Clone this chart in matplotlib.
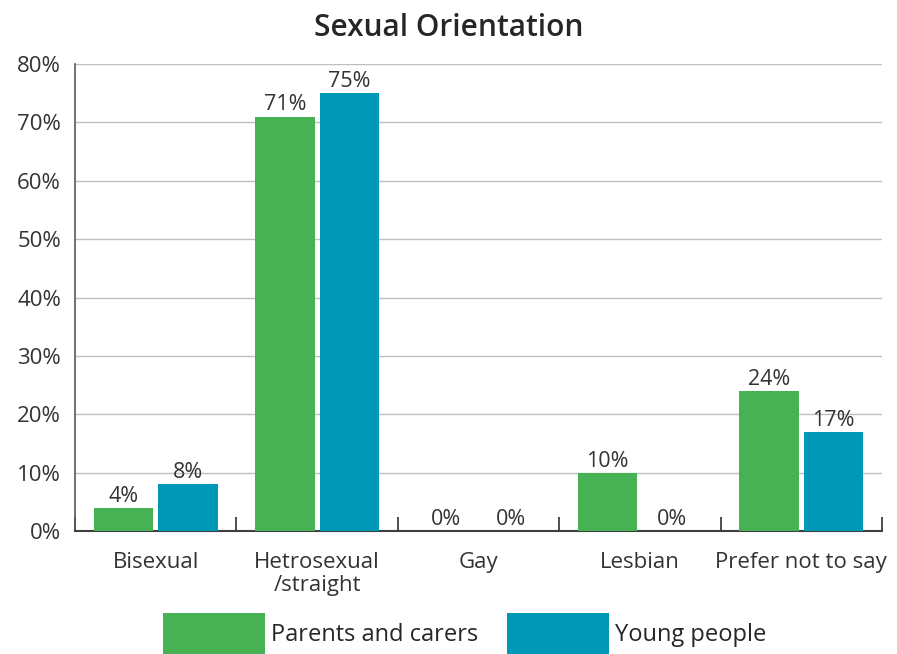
import matplotlib
matplotlib.use("Agg")
import matplotlib.pyplot as plt
import numpy as np

plt.rcParams['font.family'] = ['Open Sans', 'DejaVu Sans']

categories = ["Bisexual", "Hetrosexual\n/straight", "Gay", "Lesbian", "Prefer not to say"]
parents = [4, 71, 0, 10, 24]
young = [8, 75, 0, 0, 17]
series_names = ["Parents and carers", "Young people"]
colors = ["#46B253", "#0098B9"]
text_color = '#333333'

fig = plt.figure(figsize=(8.97, 6.54), dpi=100)
ax = fig.add_axes([0.0836, 0.188, 0.8997, 0.714])

x = np.arange(len(categories))
w = 0.37
off = 0.2
b1 = ax.bar(x - off, parents, w, color=colors[0], label=series_names[0], zorder=3)
b2 = ax.bar(x + off, young, w, color=colors[1], label=series_names[1], zorder=3)

for bars, vals in ((b1, parents), (b2, young)):
    for rect, v in zip(bars, vals):
        ax.text(rect.get_x() + rect.get_width() / 2, v + 0.2, f"{v}%",
                ha='center', va='bottom', fontsize=15.5, color=text_color)

ax.set_xlim(-0.5, len(categories) - 0.5)
ax.set_ylim(0, 80)
ax.set_yticks(np.arange(0, 81, 10))
ax.set_yticklabels([f"{v}%" for v in range(0, 81, 10)], fontsize=16, color=text_color)
ax.set_xticks(x)
ax.set_xticklabels(categories, fontsize=16, color=text_color, linespacing=1.15)
ax.set_xticks(np.arange(-0.5, len(categories)), minor=True)
ax.tick_params(axis='x', which='major', length=0, pad=15)
ax.tick_params(axis='x', which='minor', direction='in', length=10, width=1.3, color='#404040')
ax.tick_params(axis='y', length=0, pad=10)

ax.grid(axis='y', color='#BFBFBF', linewidth=1, zorder=0)
for s in ('top', 'right'):
    ax.spines[s].set_visible(False)
ax.spines['left'].set_color('#595959')
ax.spines['left'].set_linewidth(1.2)
ax.spines['bottom'].set_color('#404040')
ax.spines['bottom'].set_linewidth(1.5)

fig.suptitle("Sexual Orientation", fontsize=21.5, fontweight='semibold', color='#262626', y=0.98)

fig.legend(handles=[b1, b2], loc='center', bbox_to_anchor=(0.518, 0.031), ncol=2,
           frameon=False, fontsize=17, handlelength=4.3, handleheight=2.3,
           handletextpad=0.25, columnspacing=1.25, labelcolor='#262626')

fig.savefig("out.png", dpi=100)
